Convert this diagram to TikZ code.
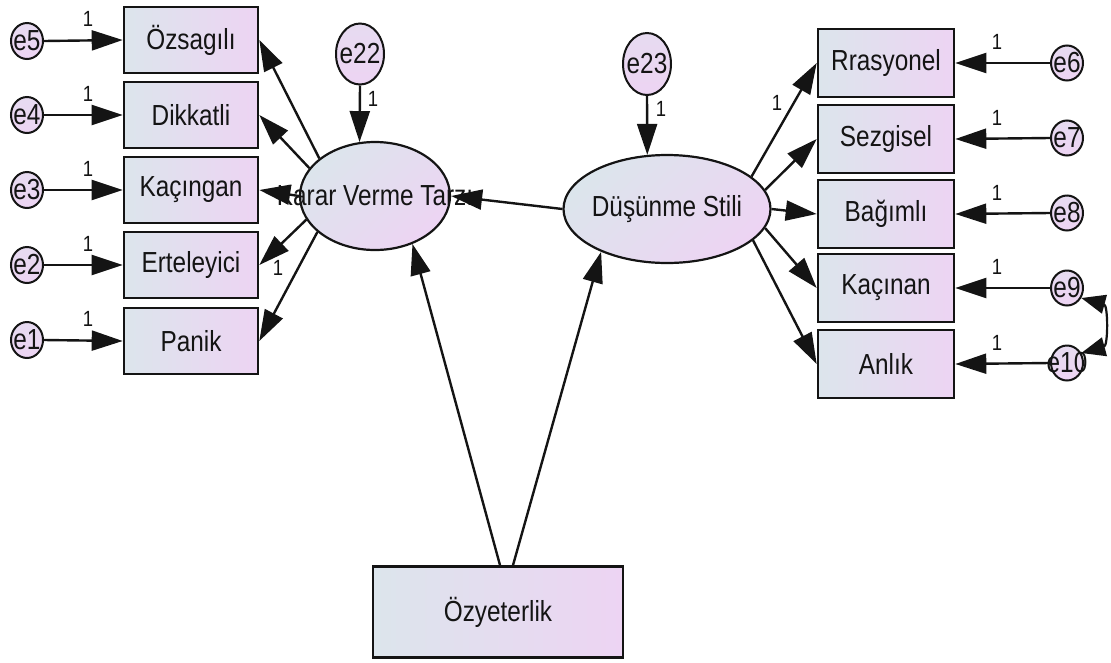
\documentclass[tikz,border=0pt]{standalone}
\usepackage{fontspec}
\setmainfont{Liberation Sans}[FakeStretch=0.84]
\usetikzlibrary{arrows.meta,shapes.geometric}
\definecolor{gl}{HTML}{DCE5EC}
\definecolor{gr}{HTML}{EDD4F3}
\definecolor{ln}{HTML}{141414}
\newcommand{\zb}[1]{\makebox[0pt]{#1}}
\begin{document}
\begin{tikzpicture}[x=1pt,y=-1pt,
  obs/.style={draw=ln, line width=2.6pt, rectangle, minimum width=134pt, minimum height=66pt,
    inner sep=0pt, left color=gl, right color=gr, font=\fontsize{29}{30}\selectfont, text=ln},
  lat/.style={draw=ln, line width=2.2pt, ellipse, inner sep=0pt, left color=gl, right color=gr,
    shading angle=45, font=\fontsize{29}{30}\selectfont, text=ln},
  err/.style={draw=ln, line width=2pt, ellipse, inner sep=0pt, minimum width=32pt, minimum height=36pt,
    top color=gl!40!gr, bottom color=gr, font=\fontsize{29}{30}\selectfont, text=ln},
  lbl/.style={inner sep=0pt, font=\fontsize{22}{24}\selectfont, text=ln},
  arr/.style={draw=ln, line width=2.4pt, -{Triangle[length=31pt,width=20pt]}},
  darr/.style={draw=ln, line width=2.2pt, {Triangle[length=24pt,width=19pt]}-{Triangle[length=24pt,width=19pt]}}
]
\useasboundingbox (0,0) rectangle (1111,662);

% left observed
\node[obs] (b5) at (191,40) {Özsagılı};
\node[obs] (b4) at (191,115) {Dikkatli};
\node[obs] (b3) at (191,190) {Kaçıngan};
\node[obs] (b2) at (191,265) {Erteleyici};
\node[obs] (b1) at (191,341) {Panik};
% left errors
\node[err] (e5) at (27,41) {\zb{e5}};
\node[err] (e4) at (27,115) {\zb{e4}};
\node[err] (e3) at (27,190) {\zb{e3}};
\node[err] (e2) at (27,265) {\zb{e2}};
\node[err] (e1) at (27,340) {\zb{e1}};
% right observed
\node[obs, minimum width=136pt, minimum height=68pt] (r6) at (886,63) {Rrasyonel};
\node[obs, minimum width=136pt, minimum height=68pt] (r7) at (886,139) {Sezgisel};
\node[obs, minimum width=136pt, minimum height=68pt] (r8) at (886,214) {Bağımlı};
\node[obs, minimum width=136pt, minimum height=68pt] (r9) at (886,288) {Kaçınan};
\node[obs, minimum width=136pt, minimum height=68pt] (r10) at (886,364) {Anlık};
% right errors
\node[err, minimum height=35pt] (e6) at (1067,63) {\zb{e6}};
\node[err, minimum height=35pt] (e7) at (1067,138) {\zb{e7}};
\node[err, minimum height=35pt] (e8) at (1067,213) {\zb{e8}};
\node[err, minimum height=35pt] (e9) at (1067,288) {\zb{e9}};
\node[err, minimum height=35pt] (e10) at (1067,363) {\zb{e10}};
% disturbances
\node[err, minimum width=48pt, minimum height=61pt] (e22) at (360,54) {\zb{e22}};
\node[err, minimum width=48pt, minimum height=62pt] (e23) at (647,64) {\zb{e23}};
% latent
\node[lat, minimum width=150pt, minimum height=108pt] (karar) at (375,196) {\zb{Karar Verme Tarzı}};
\node[lat, minimum width=207pt, minimum height=108pt] (dus) at (667,209) {\zb{Düşünme Stili}};
% exogenous
\node[obs, minimum width=250pt, minimum height=91pt] (oz) at (498,612) {Özyeterlik};

% error arrows left
\draw[arr] (e5.east) -- (b5.west);
\draw[arr] (e4.east) -- (b4.west);
\draw[arr] (e3.east) -- (b3.west);
\draw[arr] (e2.east) -- (b2.west);
\draw[arr] (e1.east) -- (b1.west);
% error arrows right
\draw[arr] (e6.west) -- (r6.east);
\draw[arr] (e7.west) -- (r7.east);
\draw[arr] (e8.west) -- (r8.east);
\draw[arr] (e9.west) -- (r9.east);
\draw[arr] (e10.west) -- (r10.east);
% covariance
\draw[darr] (e9.-35) to[out=-15, in=15, looseness=1.3] (e10.35);
% disturbances
\draw[arr] (e22.south) -- (karar.106);
\draw[arr] (e23.south) -- (dus.110.7);
% loadings Karar
\draw[arr] (karar.146) -- (b5.east);
\draw[arr] (karar.157.6) -- (b4.east);
\draw[arr] (karar.west) -- (b3.east);
\draw[arr] (karar.199) -- (b2.east);
\draw[arr] (karar.212.5) -- (b1.east);
% loadings Dus
\draw[arr] (dus.21) -- (r6.west);
\draw[arr] (dus.11) -- (r7.west);
\draw[arr] (dus.east) -- (r8.west);
\draw[arr] (dus.-11) -- (r9.west);
\draw[arr] (dus.-20) -- (r10.west);
% structural
\draw[arr] (dus.west) -- (karar.east);
\draw[arr] ([xshift=2pt]oz.north) -- (karar.-52);
\draw[arr] ([xshift=15pt]oz.north) -- (dus.213);

% labels
\node[lbl] (l5) at (88,19) {1};
\node[lbl] (l4) at (88,94) {1};
\node[lbl] (l3) at (88,169) {1};
\node[lbl] (l2) at (88,244) {1};
\node[lbl] (l1) at (88,319) {1};
\node[lbl] (l6) at (997,42) {1};
\node[lbl] (l7) at (997,118) {1};
\node[lbl] (l8) at (997,193) {1};
\node[lbl] (l9) at (997,267) {1};
\node[lbl] (l10) at (997,343) {1};
\node[lbl] (l22) at (373,99) {1};
\node[lbl] (l23) at (661,109) {1};
\node[lbl] (lk) at (278,268) {1};
\node[lbl] (ld) at (777,103) {1};
\end{tikzpicture}
\end{document}
